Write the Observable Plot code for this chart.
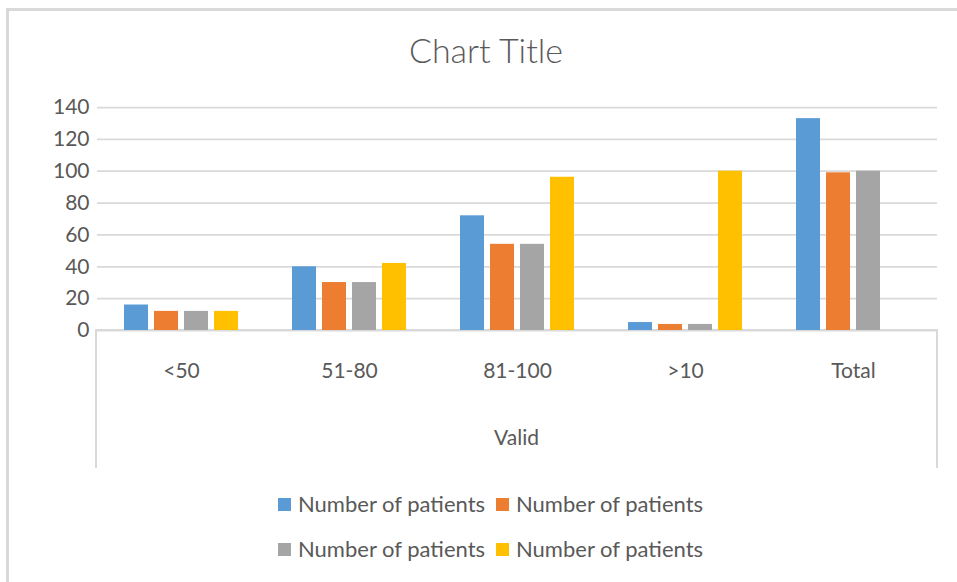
<!DOCTYPE html>
<html>
<head>
<meta charset="utf-8">
<script src="https://cdn.jsdelivr.net/npm/d3@7"></script>
<script src="https://cdn.jsdelivr.net/npm/@observablehq/plot@0.6"></script>
<style>
  html, body { margin: 0; padding: 0; background: #fff; }
  body { width: 957px; height: 582px; overflow: hidden; position: relative;
         font-family: Lato, "Open Sans", sans-serif; color: #595959; }
  #frame { position: absolute; left: 6px; top: 8px; width: 1000px; height: 640px;
           border-left: 3px solid #d9d9d9; border-top: 3px solid #d9d9d9; }
  #title { position: absolute; left: 0; width: 972px; top: 30px; text-align: center;
           font-size: 34px; font-weight: 300; line-height: 1.2; }
  #box { position: absolute; left: 95px; top: 329px; width: 839px; height: 137px;
         border: 2px solid #d9d9d9; border-bottom: none; }
  #chart { position: absolute; left: 0; top: 90px; }
  #valid { position: absolute; left: 96px; width: 841px; top: 424px; text-align: center;
           font-size: 21px; line-height: 1.2; }
  #legend { position: absolute; left: 278px; top: 492px; width: 460px; }
  .row { display: flex; height: 45px; align-items: flex-start; }
  .item { display: flex; align-items: center; width: 218px; font-size: 22px; line-height: 24px; white-space: nowrap; }
  .sw { width: 13px; height: 13px; margin-right: 7px; flex: none; }
</style>
</head>
<body>
<div id="frame"></div>
<div id="title">Chart Title</div>
<div id="box"></div>
<div id="chart"></div>
<div id="valid">Valid</div>
<div id="legend"></div>
<script>
// ---- data ----
const categories = ["<50", "51-80", "81-100", ">10", "Total"];
const seriesKeys = ["s1", "s2", "s3", "s4"];
const seriesLabels = ["Number of patients", "Number of patients", "Number of patients", "Number of patients"];
const seriesColors = ["#5B9BD5", "#ED7D31", "#A5A5A5", "#FFC000"];
const series1 = [16, 40, 72, 5, 133];
const series2 = [12.0, 30.1, 54.1, 3.8, 99];
const series3 = [12.0, 30.1, 54.1, 3.8, 100];
const series4 = [12.0, 42.1, 96.2, 100, null];
const yTicks = [0, 20, 40, 60, 80, 100, 120, 140];
const groupLabel = "Valid";

const allSeries = [series1, series2, series3, series4];
const rows = [];
categories.forEach((c, i) => {
  allSeries.forEach((s, k) => {
    if (s[i] != null) rows.push({cat: c, series: seriesKeys[k], value: s[i]});
  });
});

const chart = Plot.plot({
  width: 957,
  height: 380,
  marginLeft: 96,
  marginRight: 20,
  marginTop: 17,
  marginBottom: 140,
  style: {background: "transparent", fontFamily: "Lato, 'Open Sans', sans-serif", fontSize: "21px", color: "#595959"},
  fx: {domain: categories, padding: 0, label: null},
  x: {domain: seriesKeys, paddingInner: 0.2, paddingOuter: 0.857, axis: null},
  y: {domain: [0, 140], label: null},
  color: {domain: seriesKeys, range: seriesColors},
  marks: [
    Plot.gridY(yTicks, {stroke: "#d9d9d9", strokeOpacity: 1, strokeWidth: 1.75}),
    Plot.axisY(yTicks, {tickSize: 0, tickPadding: 8, label: null, fill: "#595959"}),
    Plot.axisFx({anchor: "bottom", tickSize: 0, tickPadding: 33, label: null, fill: "#595959"}),
    Plot.barY(rows, {fx: "cat", x: "series", y: "value", fill: "series"})
  ]
});
document.getElementById("chart").appendChild(chart);
document.getElementById("valid").textContent = groupLabel;

// legend (two rows of two)
const legend = document.getElementById("legend");
for (let r = 0; r < 2; r++) {
  const row = document.createElement("div");
  row.className = "row";
  for (let c = 0; c < 2; c++) {
    const k = r * 2 + c;
    const item = document.createElement("div");
    item.className = "item";
    const sw = document.createElement("span");
    sw.className = "sw";
    sw.style.background = seriesColors[k];
    const t = document.createElement("span");
    t.textContent = seriesLabels[k];
    item.appendChild(sw);
    item.appendChild(t);
    row.appendChild(item);
  }
  legend.appendChild(row);
}
</script>
</body>
</html>
